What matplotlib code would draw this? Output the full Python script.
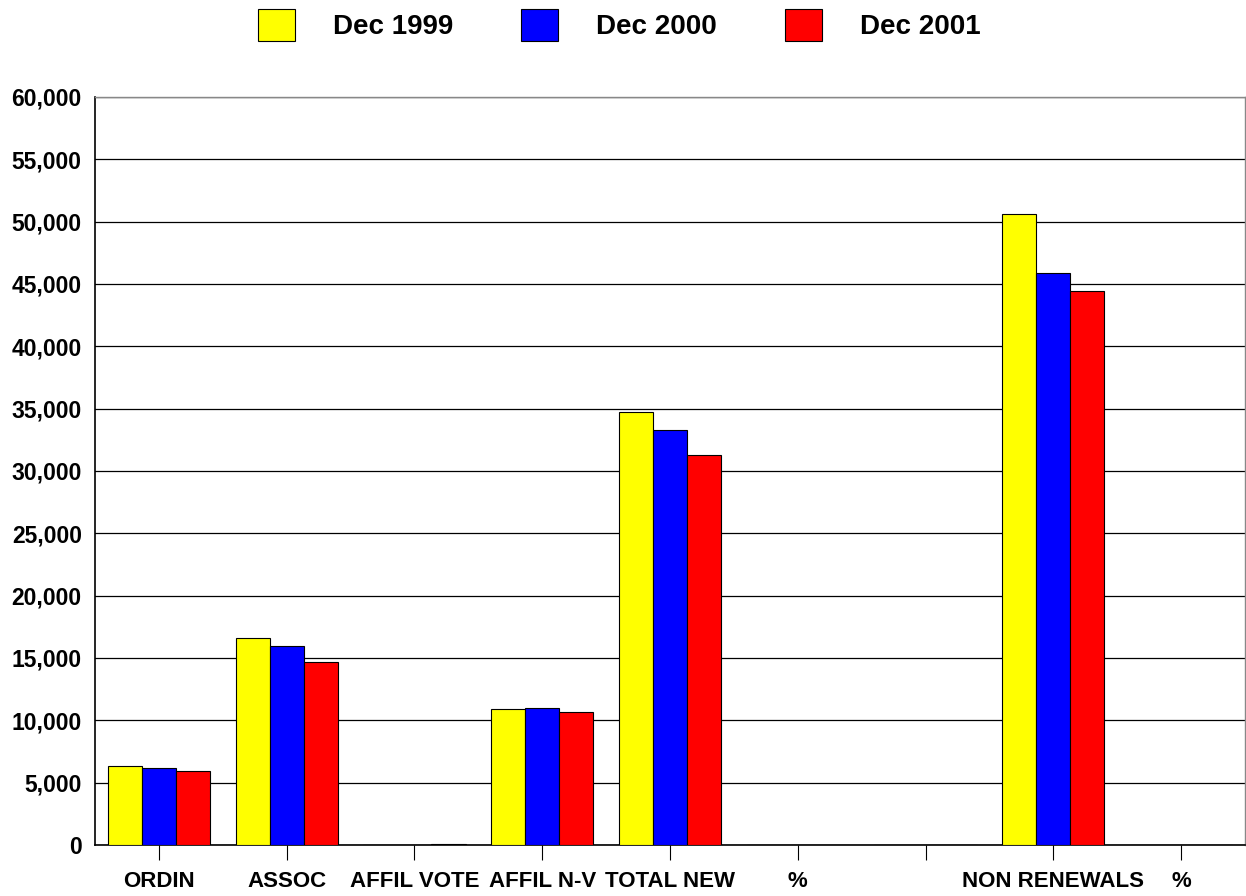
import matplotlib
matplotlib.use("Agg")
import matplotlib.pyplot as plt
import numpy as np

categories = ["ORDIN", "ASSOC", "AFFIL VOTE", "AFFIL N-V", "TOTAL NEW", "%", "", "NON RENEWALS", "%"]
series_names = ["Dec 1999", "Dec 2000", "Dec 2001"]
dec_1999 = [6300, 16600, 0, 10900, 34700, 0, 0, 50600, 0]
dec_2000 = [6200, 16000, 0, 11000, 33300, 0, 0, 45900, 0]
dec_2001 = [5900, 14700, 50, 10700, 31300, 0, 0, 44400, 0]
colors = ["#FFFF00", "#0000FF", "#FF0000"]
y_ticks = list(range(0, 60001, 5000))

plt.rcParams['font.family'] = ['Liberation Sans', 'DejaVu Sans']
plt.rcParams['font.weight'] = 'bold'

fig = plt.figure(figsize=(12.46, 8.96), dpi=100)
ax = fig.add_axes([95/1246, 1 - 845/896, (1245-95)/1246, (845-97)/896])

x = np.arange(len(categories))
w = 0.8 / 3
handles = []
for i, (vals, name, c) in enumerate(zip([dec_1999, dec_2000, dec_2001], series_names, colors)):
    b = ax.bar(x + (i - 1) * w, vals, width=w, color=c, edgecolor="black", linewidth=0.8, label=name, zorder=3)
    handles.append(b)

ax.set_xlim(-0.5, len(categories) - 0.5)
ax.set_ylim(0, 60000)
ax.set_yticks(y_ticks)
ax.set_yticklabels([f"{v:,}" for v in y_ticks], fontsize=16.5, fontweight='bold')
ax.set_xticks(x)
ax.set_xticklabels(categories, fontsize=16, fontweight='bold')
ax.tick_params(axis='x', length=11, width=0.8, pad=8, color='black')
ax.tick_params(axis='y', length=0, pad=9.5)

ax.set_axisbelow(True)
ax.yaxis.grid(True, color='black', linewidth=0.9)
ax.xaxis.grid(False)
for s in ['left', 'bottom']:
    ax.spines[s].set_color('black')
    ax.spines[s].set_linewidth(1.2)
for s in ['top', 'right']:
    ax.spines[s].set_color('#888888')
    ax.spines[s].set_linewidth(1.0)

fig.legend(handles=handles, labels=series_names, loc='center', bbox_to_anchor=(0.497, 1 - 25/896),
           ncol=3, frameon=False, prop={'size': 20, 'weight': 'bold'},
           handlelength=1.33, handleheight=1.37, handletextpad=1.37, columnspacing=2.45,
           borderaxespad=0, borderpad=0)

fig.savefig("out.png", dpi=100)
